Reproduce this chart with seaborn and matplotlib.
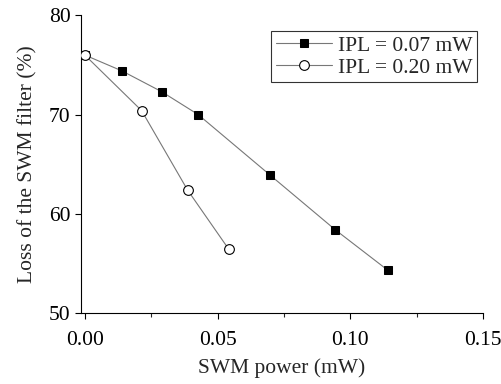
import matplotlib
matplotlib.use("Agg")
import matplotlib.pyplot as plt
import seaborn as sns
import pandas as pd

x_007 = [0.0, 0.014, 0.029, 0.0427, 0.0698, 0.0943, 0.1142]
y_007 = [76.0, 74.4, 72.3, 70.0, 63.9, 58.4, 54.3]
x_020 = [0.0, 0.0214, 0.0387, 0.0543]
y_020 = [76.0, 70.4, 62.4, 56.4]
labels = ["IPL = 0.07 mW", "IPL = 0.20 mW"]

sns.set_theme(style="ticks")
plt.rcParams["font.family"] = ["Liberation Serif", "DejaVu Serif"]

df = pd.concat([
    pd.DataFrame({"x": x_007, "y": y_007, "s": labels[0]}),
    pd.DataFrame({"x": x_020, "y": y_020, "s": labels[1]}),
])

fig, ax = plt.subplots(figsize=(5.02, 3.84), dpi=100)
fig.subplots_adjust(left=0.161, right=0.962, top=0.96, bottom=0.185)

d1 = df[df.s == labels[0]]
d2 = df[df.s == labels[1]]
sns.lineplot(data=d1, x="x", y="y", ax=ax, color="#777777", lw=0.8,
             marker="s", markersize=6, markerfacecolor="black",
             markeredgecolor="black", label=labels[0], zorder=2)
sns.lineplot(data=d2, x="x", y="y", ax=ax, color="#777777", lw=0.8,
             marker="o", markersize=7, markerfacecolor="white",
             markeredgecolor="black", markeredgewidth=0.8, label=labels[1], zorder=3)

ax.set_xlim(-0.0015, 0.15)
ax.set_ylim(50, 80)
ax.set_xticks([0.0, 0.05, 0.10, 0.15])
ax.set_xticklabels(["0.00", "0.05", "0.10", "0.15"])
ax.set_xticks([0.025, 0.075, 0.125], minor=True)
ax.set_yticks([50, 60, 70, 80])
ax.tick_params(axis="both", which="major", labelsize=15.5, direction="out", length=4, width=0.8, colors="black")
ax.tick_params(axis="x", which="major", pad=9)
ax.tick_params(axis="x", which="minor", direction="out", length=3, width=0.8)
for s in ["top", "right"]:
    ax.spines[s].set_visible(False)
for s in ["left", "bottom"]:
    ax.spines[s].set_linewidth(0.8)
    ax.spines[s].set_color("black")
ax.set_xlabel("SWM power (mW)", fontsize=15.5, labelpad=6)
ax.set_ylabel("Loss of the SWM filter (%)", fontsize=15.5, labelpad=8)

leg = ax.legend(loc="upper right", bbox_to_anchor=(0.985, 0.946), fontsize=15.5, frameon=True,
                fancybox=False, edgecolor="black", handlelength=2.6,
                borderpad=0.2, labelspacing=0.1, handletextpad=0.3, borderaxespad=0)
leg.get_frame().set_linewidth(0.8)

fig.savefig("out.png", dpi=100)
